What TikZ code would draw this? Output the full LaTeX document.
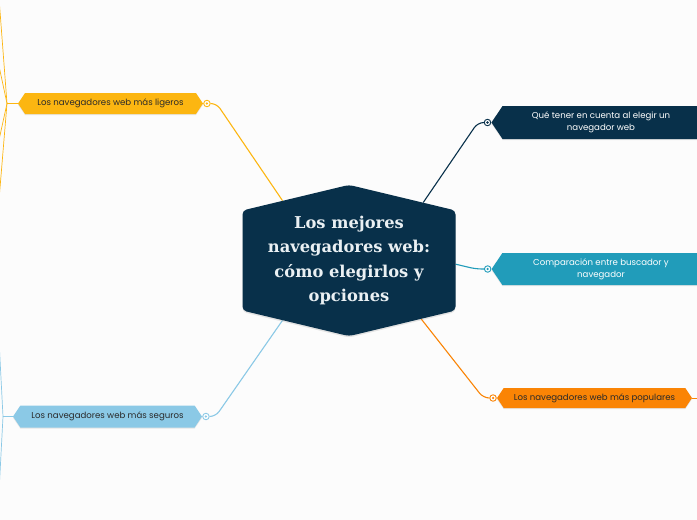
\documentclass[tikz,border=0pt]{standalone}
\usepackage{fontspec}
\setmainfont{Poppins}
\newfontfamily\titlefont{DejaVu Serif}
\usetikzlibrary{shapes.symbols,positioning,shadows,backgrounds}
\definecolor{navy}{HTML}{08304A}
\definecolor{ylw}{HTML}{FCB611}
\definecolor{sky}{HTML}{8BC9E6}
\definecolor{teal}{HTML}{219CBA}
\definecolor{orng}{HTML}{FA8405}
\definecolor{ink}{HTML}{2A2A2A}
\definecolor{paper}{HTML}{FCFCFC}
\definecolor{pale}{HTML}{EAF0F3}

\begin{document}
\begin{tikzpicture}[x=1pt,y=-1pt,
    branch/.style={signal, fill=#1, inner sep=0pt, align=center,
      font=\fontsize{8.6}{12}\selectfont,
      drop shadow={opacity=.18, shadow xshift=0pt, shadow yshift=-1.2pt}},
    hub/.style={circle, draw=#1, fill=white, line width=.9pt, inner sep=0pt,
      minimum size=6.5pt,
      path picture={\fill[#1] (path picture bounding box.center) circle (1.3pt);}},
    link/.style={draw=#1, line width=1.1pt, rounded corners=6pt},
    twig/.style={draw=#1, line width=.7pt}]
  \useasboundingbox (0,0) rectangle (697,520);

  \node[signal, signal to=north and south, signal pointer angle=153, fill=navy,
        minimum width=213pt, minimum height=139pt, inner sep=0pt, rounded corners=4pt,
        text=pale, align=center,
        font=\titlefont\bfseries\fontsize{16.3}{24.5}\selectfont,
        drop shadow={opacity=.2, shadow xshift=0pt, shadow yshift=-1.5pt}]
        (centre) at (349,260.5) {Los mejores\\navegadores web:\\cómo elegirlos y\\opciones};

  \node[branch=ylw, signal to=west and east, signal pointer angle=112,
        minimum width=185pt, minimum height=21pt, text=ink]
        (ligeros) at (110.5,103.5) {Los navegadores web más ligeros};
  \node[hub=ylw, right=0pt of ligeros] (ligerosC) {};

  \node[branch=sky, signal to=west and east, signal pointer angle=112,
        minimum width=189pt, minimum height=22pt, text=ink]
        (seguros) at (107.5,416.5) {Los navegadores web más seguros};
  \node[hub=sky, right=0pt of seguros] (segurosC) {};

  \node[branch=navy, signal to=west, signal pointer angle=112,
        minimum width=208pt, minimum height=33pt, text=white]
        (tener) at (601,122.5) {Qué tener en cuenta al elegir un\\navegador web};
  \node[hub=navy, left=0pt of tener] (tenerC) {};

  \node[branch=teal, signal to=west, signal pointer angle=112,
        minimum width=208pt, minimum height=32pt, text=white]
        (compar) at (601,269) {Comparación entre buscador y\\navegador};
  \node[hub=teal, left=0pt of compar] (comparC) {};

  \node[branch=orng, signal to=west and east, signal pointer angle=112,
        minimum width=195pt, minimum height=20pt, text=ink]
        (populares) at (594.5,398) {Los navegadores web más populares};
  \node[hub=orng, left=0pt of populares] (popularesC) {};

  \coordinate (ligerosJ) at (7,103.5);
  \coordinate (segurosJ) at (3,416.5);
  \coordinate (popularesJ) at (700,398);

  \begin{pgfonlayer}{background}
    \fill[paper] (0,0) rectangle (697,520);
    \draw[link=ylw] (ligerosC.east) -- ++(6,0) -- (centre.138);
    \draw[link=sky] (segurosC.east) -- ++(6,0) -- (centre.222);
    \draw[link=navy] (tenerC.west) -- ++(-6,0) -- (centre.38);
    \draw[link=teal] (comparC.west) -- ++(-8,0) -- (centre.358);
    \draw[link=orng] (popularesC.west) -- ++(-6,0) -- (centre.321);
    \draw[twig=ylw, line width=1pt] (ligeros.west) -- (ligerosJ);
    \foreach \y in {-2,66,140,200} \draw[twig=ylw] (ligerosJ) -- (-1,\y);
    \draw[twig=sky, line width=1pt] (seguros.west) -- (segurosJ);
    \foreach \y in {340,492} \draw[twig=sky] (segurosJ) -- (-1,\y);
    \draw[twig=orng, line width=1pt] (populares.east) -- (popularesJ);
  \end{pgfonlayer}
\end{tikzpicture}
\end{document}
